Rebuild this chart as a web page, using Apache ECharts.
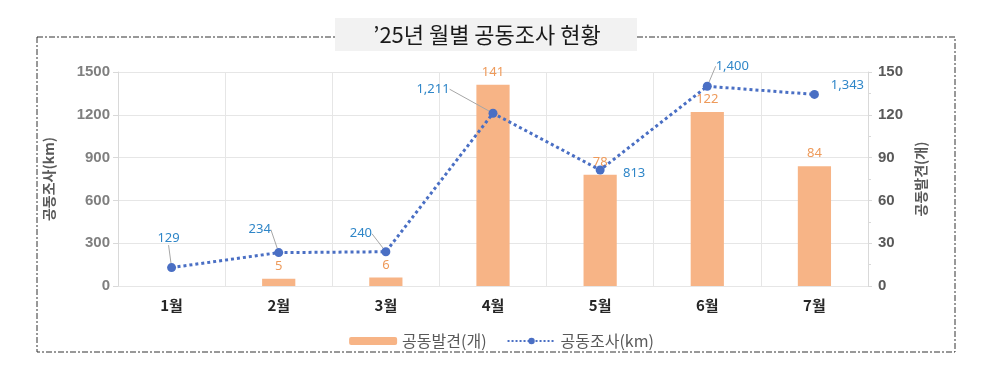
<!DOCTYPE html>
<html><head><meta charset="utf-8">
<script src="https://cdn.jsdelivr.net/npm/echarts@6/dist/echarts.min.js"></script>
<style>html,body{margin:0;padding:0;background:#fff}#c{width:1003px;height:366px}</style>
</head><body><div id="c"></div>
<script>
var categories = ['1월','2월','3월','4월','5월','6월','7월'];
var cavityFound = [null, 5, 6, 141, 78, 122, 84];      // 공동발견(개)
var cavitySurvey = [129, 234, 240, 1211, 813, 1400, 1343]; // 공동조사(km)
var leftTicks = [0, 300, 600, 900, 1200, 1500];
var rightTicks = [0, 30, 60, 90, 120, 150];
var titleText = '\u201925년 월별 공동조사 현황';

// label offsets (px) for line labels
var lineLabelOffsets = [[-3,-29],[-19,-23],[-25,-18],[-60,-24],[34,3],[25,-20],[33,-9]];
var showLeader = [true,true,true,true,false,true,false];

var chart = echarts.init(document.getElementById('c'), null, {renderer:'canvas'});
var KR = '"Noto Sans CJK KR", "Noto Sans", sans-serif';
var NARROW = '"Liberation Sans Narrow", "Arial Narrow", "Liberation Sans", sans-serif';

var lineData = cavitySurvey.map(function(v,i){
  return {value: v, labelLine: {show: showLeader[i]}};
});

chart.setOption({
  animation: false,
  textStyle: {fontFamily: KR},
  graphic: [
    {type:'rect', shape:{x:37, y:37, width:918, height:315}, style:{fill:'none', stroke:'#333', lineWidth:1, lineDash:[6,2,2,2]}, z:0, silent:true},
    {type:'rect', shape:{x:335, y:18, width:302, height:33}, style:{fill:'#f2f2f2', stroke:'none'}, z:1},
    {type:'text', x:487, y:35, style:{text:titleText, font:'22px ' + KR, fill:'#1a1a1a', align:'center', verticalAlign:'middle'}, z:2}
  ],
  grid: {left:118, right:135, top:72, bottom:80},
  legend: {
    bottom: 12, left: 'center', itemGap: 20, itemWidth: 48, itemHeight: 8,
    textStyle: {fontFamily: KR, fontSize: 16, color:'#595959'},
    data: ['공동발견(개)', '공동조사(km)']
  },
  xAxis: {
    type:'category', data: categories,
    axisLine:{show:false}, axisTick:{show:false},
    axisLabel:{fontFamily: KR, fontWeight:'bold', fontSize:15, color:'#262626', margin:12},
    splitLine:{show:true, interval:0, lineStyle:{color:'#e6e6e6'}}
  },
  yAxis: [
    {type:'value', min:0, max:1500, interval:300, position:'left',
     name:'공동조사(km)', nameLocation:'middle', nameRotate:90, nameGap:62,
     nameTextStyle:{fontFamily:KR, fontWeight:'bold', fontSize:14, color:'#595959'},
     axisLine:{show:true, lineStyle:{color:'#d9d9d9'}}, axisTick:{show:true, length:5, lineStyle:{color:'#d9d9d9'}},
     axisLabel:{fontFamily:NARROW, fontWeight:'bold', fontSize:15, color:'#7f7f7f', margin:8,
       formatter:function(v){return leftTicks.indexOf(v)>=0? String(v):'';}},
     splitLine:{show:true, lineStyle:{color:'#e6e6e6'}}},
    {type:'value', min:0, max:150, interval:30, position:'right',
     name:'공동발견(개)', nameLocation:'middle', nameRotate:90, nameGap:46,
     nameTextStyle:{fontFamily:KR, fontWeight:'bold', fontSize:14, color:'#595959'},
     axisLine:{show:true, lineStyle:{color:'#d9d9d9'}}, axisTick:{show:true, length:4, lineStyle:{color:'#d9d9d9'}},
     minorTick:{show:true, splitNumber:2, length:3, lineStyle:{color:'#d9d9d9'}},
     axisLabel:{fontFamily:NARROW, fontWeight:'bold', fontSize:15, color:'#595959', margin:10,
       formatter:function(v){return rightTicks.indexOf(v)>=0? String(v):'';}},
     splitLine:{show:false}}
  ],
  series: [
    {name:'공동발견(개)', type:'bar', yAxisIndex:1, data: cavityFound, barWidth:'31%',
     itemStyle:{color:'#f7b486'},
     label:{show:true, position:'top', distance:6, color:'#ee9a5a', fontSize:13, fontFamily:'"Noto Sans", sans-serif'}},
    {name:'공동조사(km)', type:'line', yAxisIndex:0, data: lineData,
     symbol:'circle', symbolSize:9,
     itemStyle:{color:'#4a6fc4'},
     lineStyle:{type:'dotted', width:3, color:'#4a6fc4'},
     label:{show:true, position:'inside', color:'#2f86c8', fontSize:13, fontFamily:'"Noto Sans", sans-serif',
       formatter:function(p){return Number(p.value).toLocaleString('en-US');}},
     labelLine:{show:true, lineStyle:{color:'#a6a6a6', width:1}},
     labelLayout:function(p){var o=lineLabelOffsets[p.dataIndex]; return {dx:o[0], dy:o[1]};},
     z:5}
  ]
});
</script></body></html>
